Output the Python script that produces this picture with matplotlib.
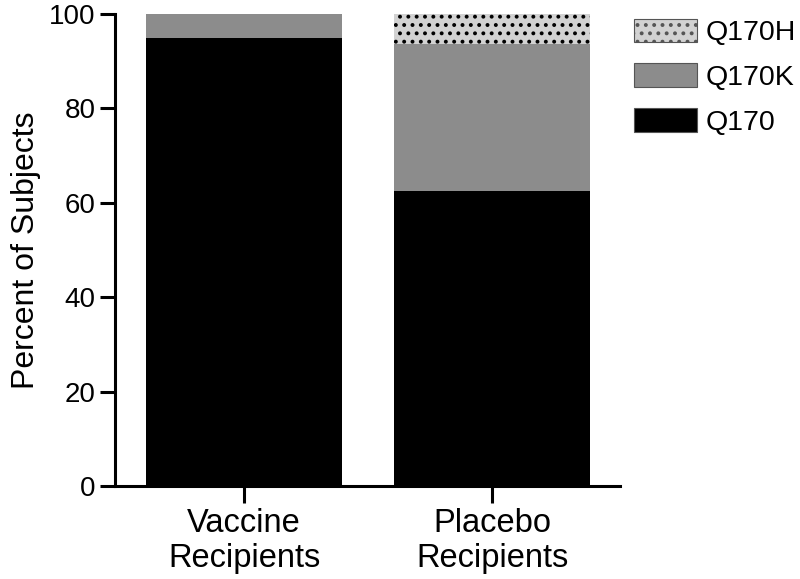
import numpy as np
import matplotlib
matplotlib.use('Agg')
import matplotlib.pyplot as plt

plt.rcParams['font.family'] = ['Liberation Sans', 'DejaVu Sans']
plt.rcParams['hatch.linewidth'] = 1.6

groups = ['Vaccine\nRecipients', 'Placebo\nRecipients']
q170 = [95.0, 62.5]
q170k = [5.0, 31.25]
q170h = [0.0, 6.25]

fig = plt.figure(figsize=(8, 5.79), dpi=100)
ax = fig.add_axes([0.144, 0.1606, 0.631, 0.8152])

x = np.arange(len(groups))
w = 0.79

ax.bar(x, q170, w, color='black', label='Q170')
ax.bar(x, q170k, w, bottom=q170, color='#8c8c8c', label='Q170K')
bottom2 = [a + b for a, b in zip(q170, q170k)]
ax.bar(x, q170h, w, bottom=bottom2, color='#d2d2d2', hatch='..',
       edgecolor='black', linewidth=0, label='Q170H')

ax.set_xlim(-0.52, 1.516)
ax.set_ylim(0, 100)
ax.set_yticks([0, 20, 40, 60, 80, 100])
ax.set_xticks(x)
ax.set_xticklabels(groups, fontsize=23.5, linespacing=1.15)
ax.tick_params(axis='y', labelsize=20, length=11, width=2.2, pad=3)
ax.tick_params(axis='x', length=12, width=2.2, pad=4)
ax.set_ylabel('Percent of Subjects', fontsize=23, labelpad=6)

for s in ['top', 'right']:
    ax.spines[s].set_visible(False)
for s in ['left', 'bottom']:
    ax.spines[s].set_linewidth(2.2)

# legend (reverse order, like the original)
h, l = ax.get_legend_handles_labels()
leg = fig.legend(h[::-1], l[::-1], loc='upper left', bbox_to_anchor=(0.793, 0.968),
                 frameon=False, fontsize=20.5, handlelength=2.2, handleheight=0.9,
                 handletextpad=0.3, labelspacing=0.6, borderpad=0, borderaxespad=0)
for p in leg.get_patches():
    p.set_edgecolor('#555555')
    p.set_linewidth(0.8)

fig.savefig('out.png', dpi=100)
